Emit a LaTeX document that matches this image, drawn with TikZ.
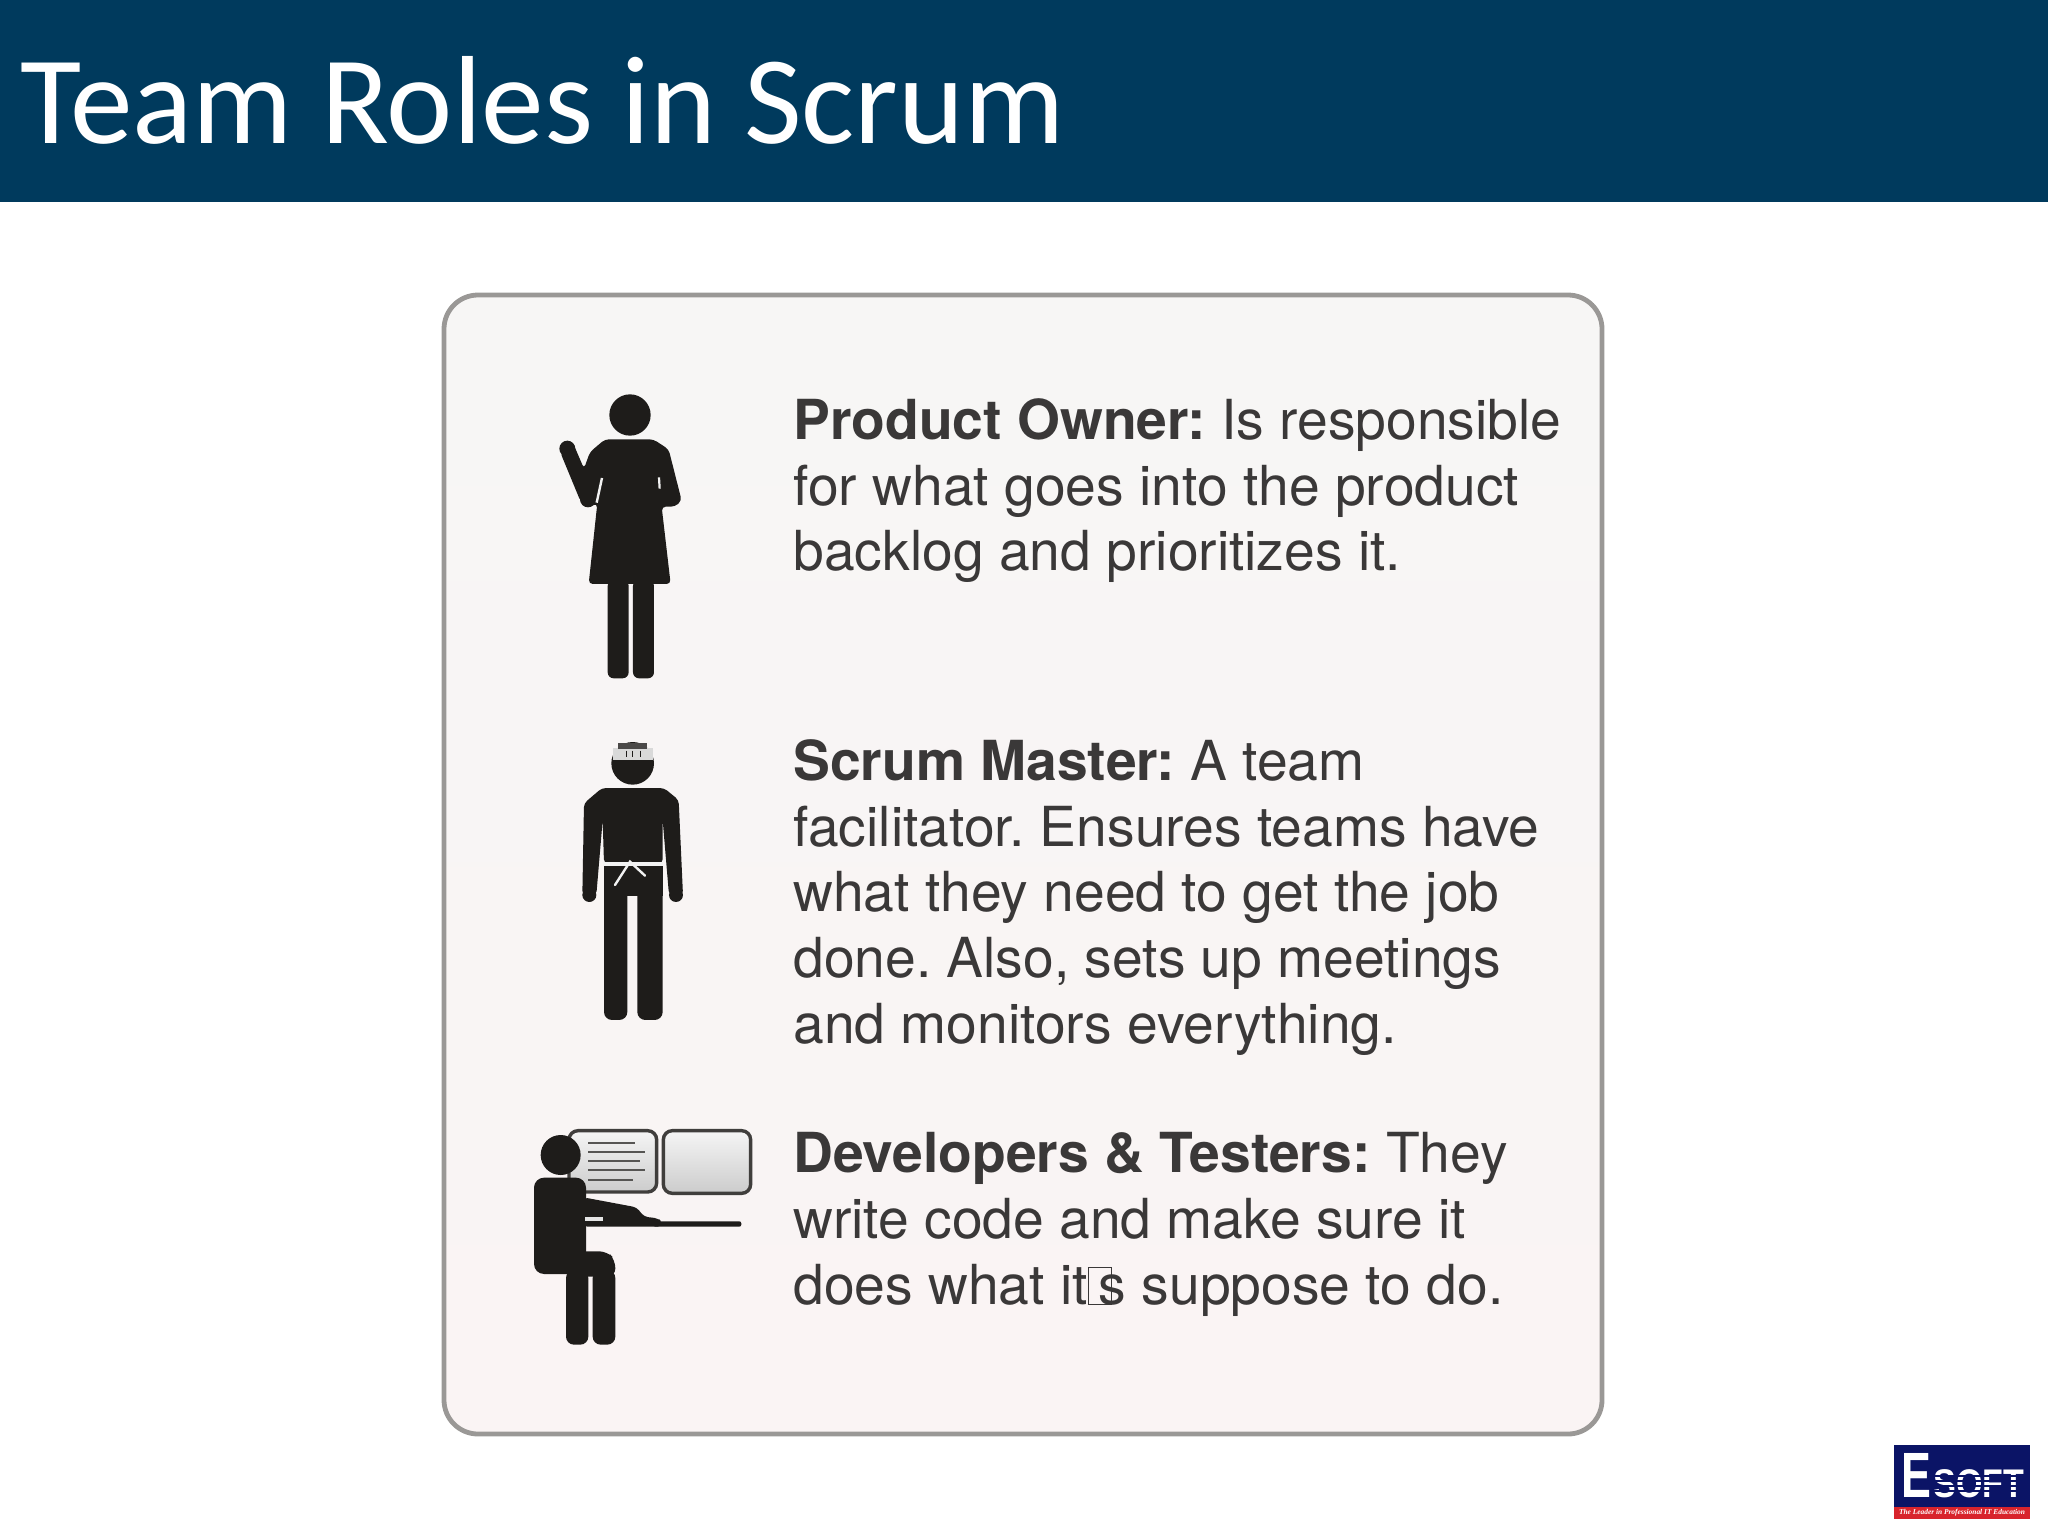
\documentclass[tikz,border=0pt]{standalone}
\usepackage{fontspec}
\setmainfont{TeX Gyre Heros}
\newfontfamily\titlefont{Carlito}
\newfontfamily\logofont{Liberation Sans}
\newfontfamily\tagfont{Liberation Serif}
\usepackage{tikz}
\definecolor{headerblue}{HTML}{003A5D}
\definecolor{panelgrey}{HTML}{9A9896}
\definecolor{paneltop}{HTML}{F7F6F5}
\definecolor{panelbottom}{HTML}{FAF4F4}
\definecolor{figureblack}{HTML}{1E1C1A}
\definecolor{bodytext}{HTML}{3A3838}
\definecolor{logonavy}{HTML}{0B1466}
\definecolor{logored}{HTML}{D8242C}
\newcommand{\missingglyph}{\makebox[0pt][l]{\fboxsep=0pt\fboxrule=0.5pt\fbox{\rule{0pt}{18pt}\hspace{11pt}}}\hspace{5.5pt}}
\tikzset{
         roletext/.style={anchor=north west,align=left,inner sep=0pt,text=bodytext,font=\frenchspacing\fontsize{27.6}{32.9}\selectfont},
         silhouette/.style={fill=figureblack,draw=none},
         screen/.style={draw=figureblack!85,line width=1.7pt,rounded corners=4.5pt,top color=white!96!black,bottom color=white!80!black},
         screenline/.style={draw=figureblack!75,line width=1.1pt}
        }
\begin{document}
\begin{tikzpicture}[x=0.5pt,y=-0.5pt]
\useasboundingbox (0,0) rectangle (2048,1536);
\fill[headerblue] (0,0) rectangle (2048,202); % header band
\node[anchor=base west,inner sep=0pt,text=white,font=\titlefont\fontsize{62.7}{62.7}\selectfont] (title) at (20,143) {Team Roles in Scrum}; % title
\draw[panelgrey,line width=2.4pt,rounded corners=17pt,top color=paneltop,bottom color=panelbottom] (444,295) rectangle (1602,1434); % panel
\begin{scope}[shift={(510,370)},scale=0.3333] % product owner figure
\fill[silhouette] (360,135) circle (62); % head
\fill[silhouette] (172,236) circle (24); % hand
\fill[silhouette] (234,388) circle (24); % elbow
\fill[silhouette,rounded corners=2pt] (150,245) -- (192,226) -- (222,296) -- (240,246) -- (285,208) -- (430,208) -- (476,238) -- (515,392) -- (495,410) -- (455,410) -- (482,642) -- (236,642) -- (262,400) -- (240,410) -- (212,395) -- cycle; % body and arm
\fill[silhouette,rounded corners=3pt] (293,630) rectangle (356,925); % leg
\fill[silhouette,rounded corners=3pt] (369,630) rectangle (432,925); % leg
\draw[white!95!black,line width=1.2pt] (276,324) -- (260,398); % left slit
\draw[white!95!black,line width=1.1pt] (447,322) -- (449,356); % right slit
\end{scope}
\begin{scope}[shift={(550,720)},scale=0.3333] % scrum master figure
\fill[silhouette] (248,130) circle (64); % head
\fill[white!85!black] (188,84) rectangle (308,120); % head band
\fill[figureblack!80] (205,68) rectangle (290,86); % head top
\draw[figureblack,line width=0.5pt] (228,92) -- (228,112) (248,92) -- (248,112) (270,92) -- (270,112); % band marks
\fill[silhouette] (118,525) circle (21); % hand
\fill[silhouette] (378,525) circle (21); % hand
\fill[silhouette,rounded corners=2pt] (156,204) -- (342,204) -- (386,240) -- (399,525) -- (357,525) -- (338,300) -- (338,430) -- (162,430) -- (158,300) -- (139,525) -- (97,525) -- (102,250) -- cycle; % torso and arms
\fill[silhouette,rounded corners=4pt] (162,425) rectangle (232,900); % leg
\fill[silhouette,rounded corners=4pt] (262,425) rectangle (338,900); % leg
\fill[silhouette] (162,425) rectangle (338,528); % hips
\draw[white!95!black,line width=2pt] (158,431) -- (340,431); % belt
\draw[white!95!black,line width=1.2pt,line cap=round] (195,495) -- (240,425) -- (285,467); % belt knot
\end{scope}
\begin{scope}[shift={(520,1110)},scale=0.3333] % developer figure
\draw[screen] (147,62) rectangle (410,246); % left screen
\draw[screen] (430,62) rectangle (692,250); % right screen
\draw[screenline] (205,98) -- (345,98); % screen text
\draw[screenline] (205,125) -- (376,125); % screen text
\draw[screenline] (205,153) -- (360,153); % screen text
\draw[screenline] (205,181) -- (376,181); % screen text
\draw[screenline] (205,209) -- (340,209); % screen text
\fill[silhouette] (122,135) circle (60); % head
\fill[silhouette,rounded corners=5pt] (42,492) rectangle (198,203); % torso
\fill[silhouette,rounded corners=2pt] (190,262) -- (350,292) -- (372,320) -- (415,325) -- (425,336) -- (425,350) -- (190,350) -- cycle; % arm
\fill[silhouette,rounded corners=1pt] (400,334) rectangle (664,350); % desk
\fill[silhouette,rounded corners=4pt] (138,424) -- (262,424) -- (286,450) -- (286,500) -- (138,500) -- cycle; % thigh
\fill[silhouette,rounded corners=4pt] (138,480) rectangle (205,704); % leg
\fill[silhouette,rounded corners=4pt] (218,480) rectangle (286,704); % leg
\fill[white!90!black] (195,322) rectangle (250,334); % sleeve gap
\end{scope}
\node[roletext] (owner) at (793,398) {\textbf{Product Owner:} Is responsible\\for what goes into the product\\backlog and prioritizes it.}; % owner text
\node[roletext] (master) at (793,739) {\textbf{Scrum Master:} A team\\facilitator. Ensures teams have\\what they need to get the job\\done. Also, sets up meetings\\and monitors everything.}; % master text
\node[roletext] (devs) at (793,1132) {\textbf{Developers \& Testers:} They\\write code and make sure it\\does what it\missingglyph s suppose to do.}; % devs text
\fill[logonavy] (1894,1445) rectangle (2030,1507); % logo field
\fill[logored] (1894,1507) rectangle (2030,1519); % logo strip
\node[anchor=base west,inner sep=0pt,text=white,xscale=0.7,font=\logofont\bfseries\fontsize{32}{32}\selectfont] (logoe) at (1901,1497) {E}; % logo E
\node[anchor=base west,inner sep=0pt,text=white,xscale=0.85,font=\logofont\bfseries\fontsize{20}{20}\selectfont] (logosoft) at (1933,1497) {SOFT}; % logo SOFT
\draw[logonavy,line width=0.8pt] (1932,1476) -- (2028,1476) (1932,1481) -- (2028,1481) (1932,1486) -- (2028,1486) (1932,1491) -- (2028,1491); % logo stripes
\node[inner sep=0pt,text=white,font=\tagfont\bfseries\itshape\fontsize{3.7}{4}\selectfont] (logotag) at (1962,1513) {The Leader in Professional IT Education}; % logo tag
\end{tikzpicture}
\end{document}
